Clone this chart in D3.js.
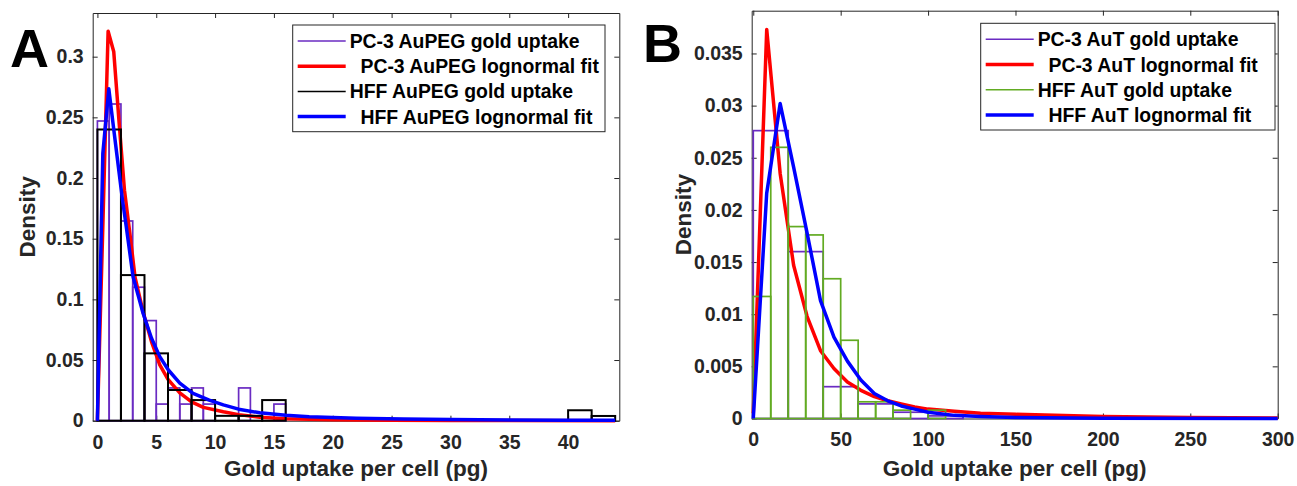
<!DOCTYPE html>
<html>
<head>
<meta charset="utf-8">
<script src="https://cdn.jsdelivr.net/npm/d3@7"></script>
<style>
body{margin:0;background:#fff;}
text{font-family:"Liberation Sans",Arial,sans-serif;font-weight:bold;}
</style>
</head>
<body>
<div id="chart"></div>
<script>
// ---- panel A data (AuPEG) ----
const aPc3BinWidth = 1;
const aPc3Density = [0.247,0.261,0.1646,0.11,0.0825,0.0137,0.027,0.0137,0.027,0.0137,0,0,0.027,0,0,0.0137];
const aHffBinWidth = 2;
const aHffDensity = [0.24,0.12,0.0555,0.0253,0.017,0.004,0.004,0.017,0,0,0,0,0,0,0,0,0,0,0,0,0.0086,0.0039];
const aPc3FitX = [0,0.46,0.91,1.39,1.85,2.3,2.75,3.2,3.9,4.6,5.3,6,7,8,9,10.7,12,13.8,16,20,25,30,35,44];
const aPc3FitY = [0,0.16,0.321,0.304,0.245,0.19,0.155,0.118,0.089,0.065,0.046,0.034,0.023,0.0155,0.011,0.0074,0.005,0.0028,0.0017,0.0008,0.0004,0.0002,0.0001,0.00005];
const aHffFitX = [0,0.46,0.97,1.39,1.85,2.13,2.38,3.03,3.88,4.6,5.3,6.03,7,8.13,9.5,10.7,12,13.8,16,18,22,26,30,35,40,44];
const aHffFitY = [0,0.22,0.2735,0.24,0.204,0.182,0.165,0.1187,0.0886,0.068,0.0528,0.0418,0.031,0.0226,0.017,0.013,0.0095,0.0065,0.0045,0.0033,0.002,0.0013,0.0009,0.0006,0.0004,0.0003];
const aXTicks = [0,5,10,15,20,25,30,35,40];
const aYTicks = [0,0.05,0.1,0.15,0.2,0.25,0.3];
const aLegend = ["PC-3 AuPEG gold uptake","  PC-3 AuPEG lognormal fit","HFF AuPEG gold uptake","  HFF AuPEG lognormal fit"];

// ---- panel B data (AuT) ----
const bPc3BinWidth = 20;
const bPc3Density = [0.0276,0.016,0.00305,0.0014,0.0006,0.00025];
const bHffBinWidth = 10;
const bHffDensity = [0.0117,0.026,0.0184,0.0176,0.0134,0.0075,0.0016,0.0016,0.0008,0,0.0008];
const bPc3FitX = [0,7.69,15.38,23.08,30.77,38.46,46.15,53.85,61.54,69.23,76.92,84.62,92.31,100,115,130,150,200,250,300];
const bPc3FitY = [0.0005,0.0373,0.0235,0.0147,0.0098,0.0065,0.0048,0.0035,0.0027,0.0021,0.0017,0.0014,0.0011,0.0009,0.0007,0.0005,0.0004,0.0002,0.0001,0.00005];
const bHffFitX = [0,7.69,15.38,23.08,30.77,38.46,46.15,53.85,61.54,69.23,76.92,84.62,92.31,100,115,130,150,200,300];
const bHffFitY = [0,0.0216,0.0302,0.0241,0.0178,0.0113,0.0078,0.0055,0.0037,0.0024,0.0017,0.0012,0.0009,0.0006,0.0003,0.0002,0.0001,0.00003,0];
const bXTicks = [0,50,100,150,200,250,300];
const bYTicks = [0,0.005,0.01,0.015,0.02,0.025,0.03,0.035];
const bLegend = ["PC-3 AuT gold uptake","  PC-3 AuT lognormal fit","HFF AuT gold uptake","  HFF AuT lognormal fit"];

const axisColor = "#262626";
const purple = "#6a2bc2";
const green = "#62ab22";

const svg = d3.select("#chart").append("svg")
    .attr("width",1297)
    .attr("height",486)
    .style("background","#fff");

function drawPanel(cfg){
    const x = d3.scaleLinear().domain(cfg.xDomain).range([cfg.left, cfg.right]);
    const y = d3.scaleLinear().domain(cfg.yDomain).range([cfg.bottom, cfg.top]);
    const g = svg.append("g");
    const fmt = d=>String(+d.toFixed(3));

    // axes under the data, matlab style ticks pointing in
    const axB = g.append("g").attr("transform","translate(0,"+cfg.bottom+")")
        .call(d3.axisBottom(x).tickValues(cfg.xTicks).tickSizeInner(-5).tickSizeOuter(0).tickPadding(14).tickFormat(fmt));
    const axT = g.append("g").attr("transform","translate(0,"+cfg.top+")")
        .call(d3.axisTop(x).tickValues(cfg.xTicks).tickSizeInner(-5).tickSizeOuter(0).tickFormat(""));
    const axL = g.append("g").attr("transform","translate("+cfg.left+",0)")
        .call(d3.axisLeft(y).tickValues(cfg.yTicks).tickSizeInner(-5).tickSizeOuter(0).tickPadding(9).tickFormat(fmt));
    const axR = g.append("g").attr("transform","translate("+cfg.right+",0)")
        .call(d3.axisRight(y).tickValues(cfg.yTicks).tickSizeInner(-5).tickSizeOuter(0).tickFormat(""));
    [axB,axT,axL,axR].forEach(ax=>{
        ax.select(".domain").attr("stroke",axisColor).attr("stroke-width",1);
        ax.selectAll(".tick line").attr("stroke",axisColor);
        ax.selectAll(".tick text").attr("fill",axisColor).style("font-size","19.5px").style("font-family",null);
    });

    // series in legend order
    cfg.series.forEach(s=>{
        if(s.type==="hist"){
            g.append("g").selectAll("rect")
                .data(s.density)
                .join("rect")
                .attr("x",(d,i)=>x(i*s.binWidth))
                .attr("y",d=>y(d))
                .attr("width",s.binWidth*(x(1)-x(0)))
                .attr("height",d=>y(0)-y(d))
                .attr("fill","none")
                .attr("stroke",s.color)
                .attr("stroke-width",s.width);
        }else{
            const pts = s.xs.map((v,i)=>[v,s.ys[i]]);
            g.append("path")
                .datum(pts)
                .attr("fill","none")
                .attr("stroke",s.color)
                .attr("stroke-width",s.width)
                .attr("stroke-linejoin","round")
                .attr("d",d3.line().x(d=>x(d[0])).y(d=>y(d[1])));
        }
    });

    // legend
    const lg = cfg.legend;
    g.append("rect")
        .attr("x",lg.x).attr("y",lg.y).attr("width",lg.w).attr("height",lg.h)
        .attr("fill","#fff").attr("stroke",axisColor).attr("stroke-width",1);
    cfg.series.forEach((s,i)=>{
        const cy = lg.y + 16 + i*25.2;
        g.append("line")
            .attr("x1",lg.x+5).attr("x2",lg.x+53)
            .attr("y1",cy).attr("y2",cy)
            .attr("stroke",s.color)
            .attr("stroke-width",s.type==="hist" ? 1.5 : 3.5);
        g.append("text")
            .attr("x",lg.x+57)
            .attr("y",cy+7)
            .attr("fill","#000")
            .style("font-size","19.4px")
            .style("white-space","pre")
            .text(cfg.labels[i]);
    });

    // axis titles
    g.append("text")
        .attr("x",(cfg.left+cfg.right)/2)
        .attr("y",476)
        .attr("text-anchor","middle")
        .attr("fill",axisColor)
        .style("font-size","22.5px")
        .text("Gold uptake per cell (pg)");
    g.append("text")
        .attr("transform","translate("+cfg.yLabelX+","+((cfg.top+cfg.bottom)/2)+") rotate(-90)")
        .attr("text-anchor","middle")
        .attr("fill",axisColor)
        .style("font-size","22.5px")
        .text("Density");

    // panel letter
    g.append("text")
        .attr("x",cfg.letterX).attr("y",cfg.letterY)
        .attr("fill","#000")
        .style("font-size","54px")
        .text(cfg.letter);
}

drawPanel({
    left:92.7, right:619.3, top:13, bottom:420.7,
    xDomain:[-0.4,44.35], yDomain:[0,0.336],
    xTicks:aXTicks, yTicks:aYTicks,
    labels:aLegend,
    legend:{x:292.7,y:25,w:312.3,h:106.7},
    yLabelX:35, letter:"A", letterX:10, letterY:67,
    series:[
        {type:"hist",density:aPc3Density,binWidth:aPc3BinWidth,color:purple,width:1.7},
        {type:"fit",xs:aPc3FitX,ys:aPc3FitY,color:"#ff0000",width:3.5},
        {type:"hist",density:aHffDensity,binWidth:aHffBinWidth,color:"#000",width:2},
        {type:"fit",xs:aHffFitX,ys:aHffFitY,color:"#0000ff",width:3.5}
    ]
});

drawPanel({
    left:751.7, right:1277.7, top:10.7, bottom:418.5,
    xDomain:[-0.9,300], yDomain:[0,0.0391],
    xTicks:bXTicks, yTicks:bYTicks,
    labels:bLegend,
    legend:{x:980.7,y:23.3,w:294.3,h:106.7},
    yLabelX:691, letter:"B", letterX:643, letterY:62,
    series:[
        {type:"hist",density:bPc3Density,binWidth:bPc3BinWidth,color:purple,width:1.7},
        {type:"fit",xs:bPc3FitX,ys:bPc3FitY,color:"#ff0000",width:3.5},
        {type:"hist",density:bHffDensity,binWidth:bHffBinWidth,color:green,width:1.7},
        {type:"fit",xs:bHffFitX,ys:bHffFitY,color:"#0000ff",width:3.5}
    ]
});
</script>
</body>
</html>
